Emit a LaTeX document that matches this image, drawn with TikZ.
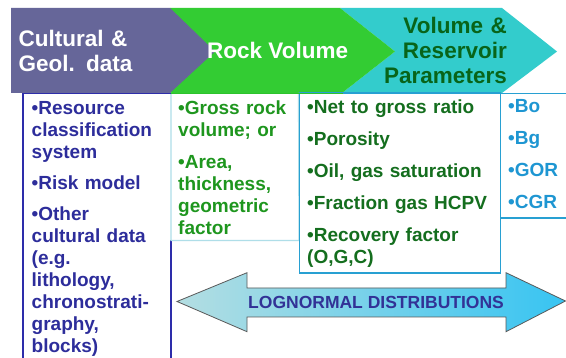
\documentclass[tikz,border=0pt]{standalone}
\usepackage{fontspec}
\setmainfont{Liberation Sans}
\definecolor{cpurple}{RGB}{102,102,153}
\definecolor{cgreen}{RGB}{51,204,51}
\definecolor{cteal}{RGB}{51,204,204}
\definecolor{hdrgreen}{RGB}{8,100,25}
\definecolor{navytxt}{RGB}{45,45,155}
\definecolor{navyline}{RGB}{45,45,170}
\definecolor{greentxt}{RGB}{30,150,30}
\definecolor{greenline}{RGB}{45,195,45}
\definecolor{dgreentxt}{RGB}{20,110,30}
\definecolor{bluetxt}{RGB}{30,150,210}
\definecolor{blueline}{RGB}{40,160,210}
\definecolor{lbline}{RGB}{175,222,232}
\definecolor{arrL}{RGB}{180,222,226}
\definecolor{arrR}{RGB}{55,196,242}
\definecolor{arrtxt}{RGB}{50,50,150}
\begin{document}
\begin{tikzpicture}[x=1pt,y=-1pt,
  hdr/.style={font=\fontsize{22.5}{25}\selectfont\bfseries, inner sep=0pt},
  boxtxt/.style={font=\fontsize{19}{22}\selectfont\bfseries, inner sep=0pt,
    text width=230pt, align=left, anchor=base west},
  bl/.style={draw=blueline, line width=1.5pt},
  lb/.style={draw=lbline, line width=1.2pt},
  nl/.style={draw=navyline, line width=1.6pt}]
\useasboundingbox (0,0) rectangle (566,358);
\fill[white] (0,0) rectangle (566,358);
% header chevrons
\fill[cteal] (340,8) -- (502,8) -- (557,51.5) -- (502,93) -- (342,93) -- (395,51.5) -- cycle;
\fill[cgreen] (170,8) -- (340,8) -- (395,51.5) -- (342,93) -- (170,93) -- cycle;
\fill[cpurple] (11,8) -- (170,8) -- (215,51.5) -- (170,93) -- (11,93) -- cycle;
\node[hdr, text=white, text width=150pt, align=left, anchor=base west] (h1) at (18.5,46.7) {Cultural \&\\Geol. data};
\node[hdr, text=white, anchor=base west] (h2) at (207,58.5) {Rock Volume};
\node[hdr, text=hdrgreen, text width=160pt, align=right, anchor=base east] (h3) at (507,33.3) {Volume \&\\Reservoir\\Parameters};
% box frames
\draw[nl] (22.7,93) -- (22.7,362);
\draw[nl] (171,240.5) -- (171,362);
\draw[lb] (171,93) -- (171,240.5) -- (299,240.5) -- (298.5,93);
\draw[bl] (299.5,93) rectangle (500.5,273);
\draw[bl] (500.5,93) -- (500.5,218) -- (570,218);
\draw[nl] (22,93.5) -- (171,93.5);
\draw[draw=greenline, line width=1.6pt] (171,93.5) -- (343,93.5);
\draw[bl] (343,93.5) -- (570,93.5);
% box texts
\node[boxtxt, text=navytxt] (t1) at (31.5,115) {\textbullet Resource\\classification\\system\\[9pt]\textbullet Risk model\\[9pt]\textbullet Other\\cultural data\\(e.g.\\lithology,\\chronostrati-\\graphy,\\blocks)};
\node[boxtxt, text=greentxt] (t2) at (178,115) {\textbullet Gross rock\\volume; or\\[9.5pt]\textbullet Area,\\thickness,\\geometric\\factor};
\node[boxtxt, text=dgreentxt] (t3) at (307,114) {\textbullet Net to gross ratio\\[10pt]\textbullet Porosity\\[10pt]\textbullet Oil, gas saturation\\[10pt]\textbullet Fraction gas HCPV\\[10pt]\textbullet Recovery factor\\(O,G,C)};
\node[boxtxt, text=bluetxt] (t4) at (508,113) {\textbullet Bo\\[10pt]\textbullet Bg\\[10pt]\textbullet GOR\\[10pt]\textbullet CGR};
% double arrow
\draw[draw=black!65, line width=0.8pt, left color=arrL, right color=arrR]
  (177,301.5) -- (247,272.7) -- (247,288) -- (506,288) -- (506,272.7) -- (565.5,301) -- (506,331.7) -- (506,317) -- (247,317) -- (247,331.7) -- cycle;
\node[font=\fontsize{17.5}{20}\selectfont\bfseries, text=arrtxt, anchor=base west, inner sep=0pt] (lg) at (248,308.3) {LOGNORMAL DISTRIBUTIONS};
\end{tikzpicture}
\end{document}
